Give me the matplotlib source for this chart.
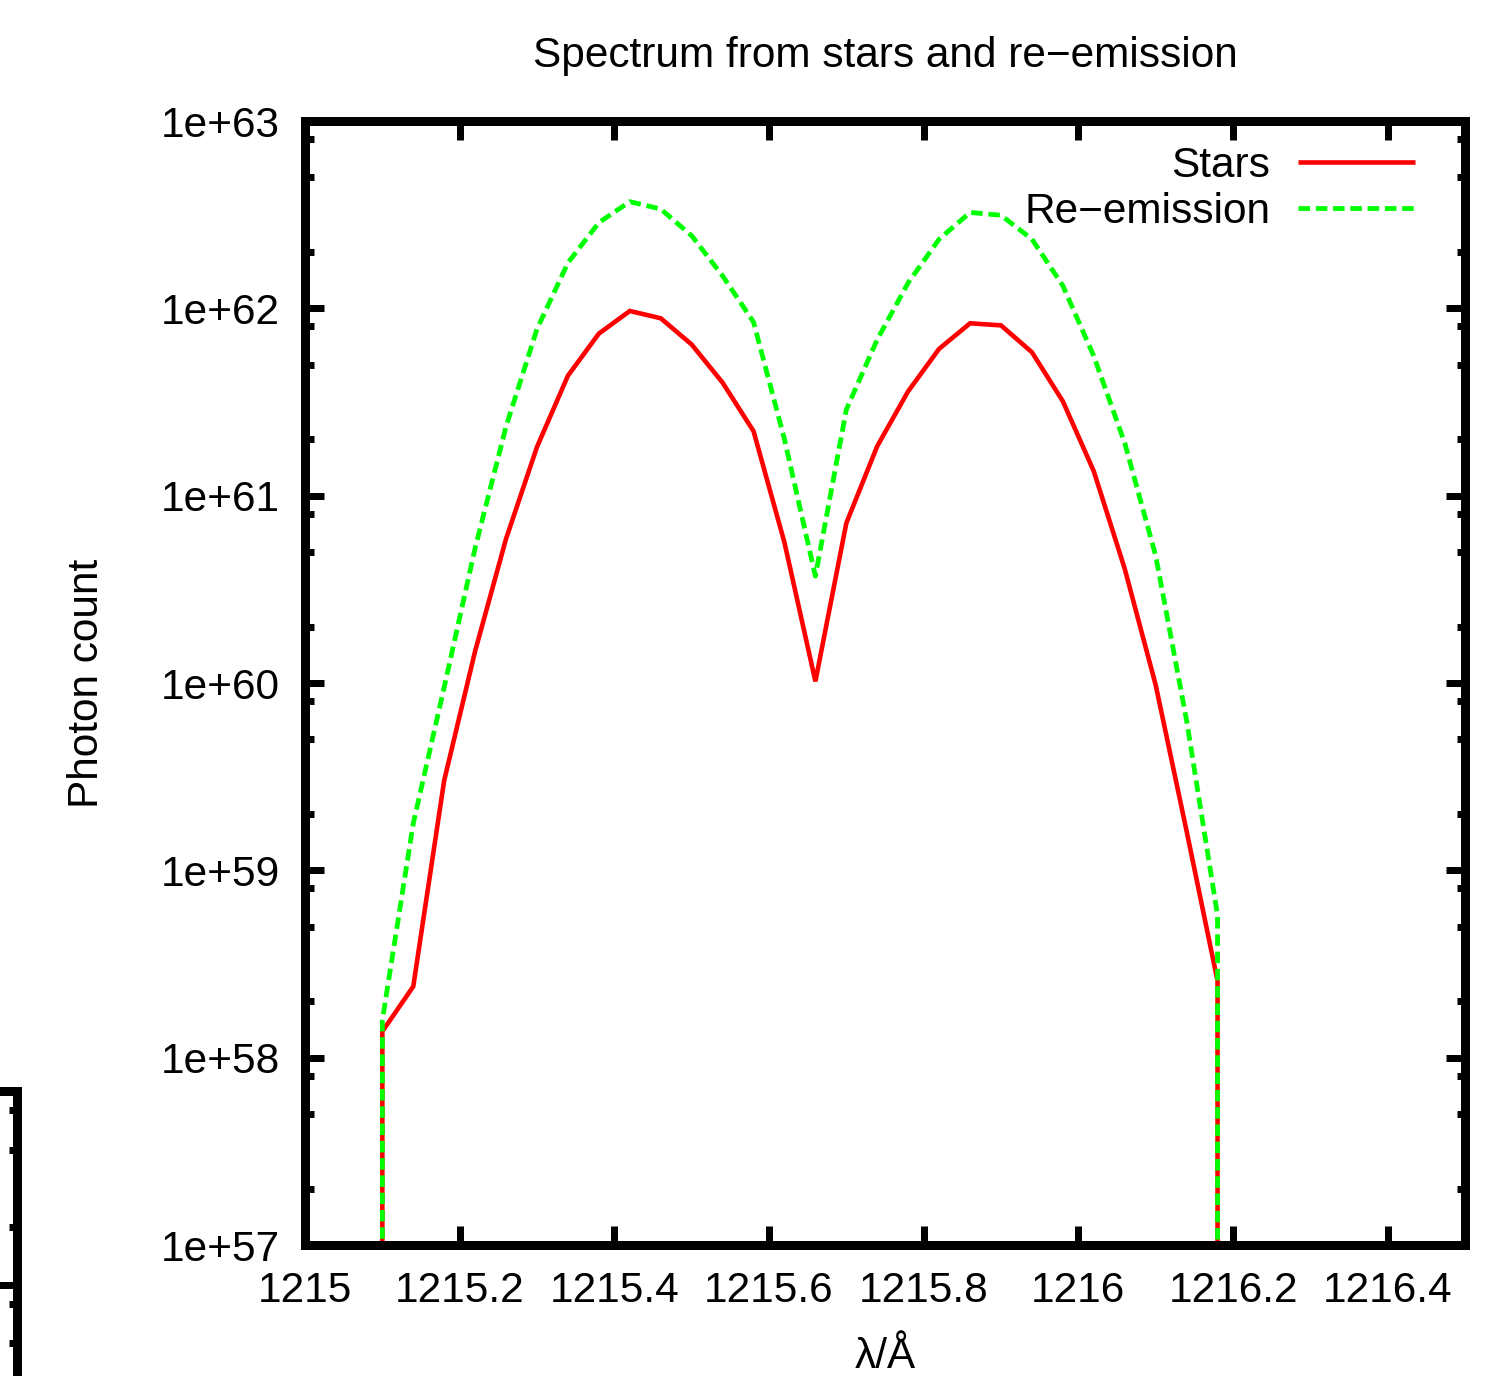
import matplotlib
matplotlib.use('Agg')
import matplotlib.pyplot as plt
from matplotlib.ticker import FixedLocator, FixedFormatter, LogLocator, NullLocator, NullFormatter

# ---------------- data ----------------
wavelength = [1215.10, 1215.14, 1215.18, 1215.22, 1215.26, 1215.30, 1215.34,
              1215.38, 1215.42, 1215.46, 1215.50, 1215.54, 1215.58, 1215.62,
              1215.66, 1215.70, 1215.74, 1215.78, 1215.82, 1215.86, 1215.90,
              1215.94, 1215.98, 1216.02, 1216.06, 1216.10, 1216.14, 1216.18]

stars = [1.38e58, 2.40e58, 3.02e59, 1.48e60, 5.89e60, 1.82e61, 4.37e61,
         7.33e61, 9.68e61, 8.85e61, 6.41e61, 4.01e61, 2.21e61, 5.62e60,
         1.02e60, 7.14e60, 1.84e61, 3.61e61, 6.08e61, 8.32e61, 8.11e61,
         5.83e61, 3.19e61, 1.35e61, 4.07e60, 9.77e59, 1.62e59, 2.57e58]

reemission = [1.58e58, 1.78e59, 9.50e59, 5.25e60, 2.34e61, 7.76e61, 1.75e62,
              2.87e62, 3.71e62, 3.39e62, 2.44e62, 1.49e62, 8.45e61, 2.00e61,
              3.72e60, 2.88e61, 6.82e61, 1.37e62, 2.34e62, 3.25e62, 3.14e62,
              2.34e62, 1.32e62, 5.56e61, 1.91e61, 4.79e60, 6.31e59, 5.75e58]

# the spectrum drops to (effectively) zero outside the sampled band
floor_value = 1e50

xticks = [1215.0, 1215.2, 1215.4, 1215.6, 1215.8, 1216.0, 1216.2, 1216.4]
xtick_labels = ['1215', '1215.2', '1215.4', '1215.6', '1215.8', '1216', '1216.2', '1216.4']
yticks = [1e57, 1e58, 1e59, 1e60, 1e61, 1e62, 1e63]
ytick_labels = ['1e+57', '1e+58', '1e+59', '1e+60', '1e+61', '1e+62', '1e+63']

title = 'Spectrum from stars and re\u2212emission'
xlabel = '\u03bb/\u00c5'
ylabel = 'Photon count'
series_labels = ['Stars', 'Re\u2212emission']

# ---------------- figure ----------------
plt.rcParams['font.family'] = ['Liberation Sans', 'DejaVu Sans']
W, H = 1508, 1376
PT = 0.72  # points per pixel at dpi 100
FS = 30.5

fig = plt.figure(figsize=(W / 100, H / 100), dpi=100)

L, R, T, B = 305, 1465, 121, 1245
ax = fig.add_axes([L / W, 1 - B / H, (R - L) / W, (B - T) / H])
ax.set_yscale('log')

lam_full = [wavelength[0]] + wavelength + [wavelength[-1]]
stars_full = [floor_value] + stars + [floor_value]
reem_full = [floor_value] + reemission + [floor_value]

ax.plot(lam_full, stars_full, color='#ff0000', lw=4.6 * PT,
        solid_capstyle='butt', solid_joinstyle='miter', label=series_labels[0])
ax.plot(lam_full, reem_full, color='#00ff00', lw=4.8 * PT,
        linestyle=(0, (2.4, 1.2)), dash_capstyle='butt', label=series_labels[1])

ax.set_xlim(1215.0, 1216.5)
ax.set_ylim(1e57, 1e63)

ax.xaxis.set_major_locator(FixedLocator(xticks))
ax.xaxis.set_major_formatter(FixedFormatter(xtick_labels))
ax.xaxis.set_minor_locator(NullLocator())
ax.yaxis.set_major_locator(FixedLocator(yticks))
ax.yaxis.set_major_formatter(FixedFormatter(ytick_labels))
ax.yaxis.set_minor_locator(LogLocator(base=10, subs=[2, 5, 8], numticks=50))
ax.yaxis.set_minor_formatter(NullFormatter())

for s in ax.spines.values():
    s.set_linewidth(9 * PT)
    s.set_color('black')

ax.tick_params(axis='both', which='major', direction='in', length=19 * PT,
               width=7 * PT, top=True, right=True, labelsize=FS, color='black')
ax.tick_params(axis='y', which='minor', direction='in', length=8.5 * PT,
               width=7 * PT, left=True, right=True)
ax.tick_params(axis='x', which='major', pad=19)
ax.tick_params(axis='y', which='major', pad=18)

ax.set_title(title, fontsize=FS, pad=39)
ax.set_xlabel(xlabel, fontsize=FS, va='top')
ax.xaxis.set_label_coords(0.5, -0.082)
ax.set_ylabel(ylabel, fontsize=FS)
ax.yaxis.set_label_coords(-0.171, 0.5)

ax.legend(loc='upper right', bbox_to_anchor=(1415 / W, 1 - 146 / H),
          bbox_transform=fig.transFigure, frameon=False, markerfirst=False,
          handlelength=117 / 42.4, handletextpad=28 / 42.4, borderpad=0,
          borderaxespad=0, labelspacing=0.14, fontsize=FS)

# ---------------- fragment of a neighbouring panel (bottom-left edge) ----------------
f_right, f_top, f_bottom, f_major = 17, 1091, 1500, 1285
decade = 193.5
ax2 = fig.add_axes([-0.3, 1 - f_bottom / H, 0.3 + f_right / W, (f_bottom - f_top) / H])
ax2.set_yscale('log')
ax2.set_ylim(10 ** (-(f_bottom - f_major) / decade), 10 ** ((f_major - f_top) / decade))
ax2.set_xlim(0, 1)
for name, s in ax2.spines.items():
    s.set_linewidth(9 * PT)
    s.set_visible(name in ('right', 'top'))
ax2.yaxis.set_major_locator(LogLocator(base=10, numticks=20))
ax2.yaxis.set_minor_locator(LogLocator(base=10, subs=[2, 5, 8], numticks=50))
ax2.yaxis.set_minor_formatter(NullFormatter())
ax2.tick_params(axis='y', which='both', direction='in', left=False, right=True,
                labelleft=False, labelright=False, width=7 * PT)
ax2.tick_params(axis='y', which='major', length=19 * PT)
ax2.tick_params(axis='y', which='minor', length=8.5 * PT)
ax2.tick_params(axis='x', which='both', bottom=False, top=False,
                labelbottom=False, labeltop=False)
ax2.patch.set_visible(False)

fig.savefig('out.png', dpi=100)
